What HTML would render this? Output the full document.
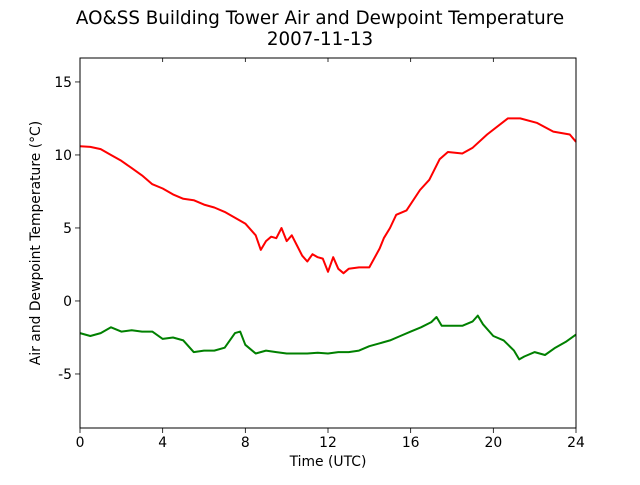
<!DOCTYPE html>
<html><head><meta charset="utf-8"><style>
html,body{margin:0;padding:0;background:#fff;}
svg text{font-family:"DejaVu Sans","Liberation Sans",sans-serif;fill:#000;}
</style></head><body>
<svg id="chart" width="640" height="480" xmlns="http://www.w3.org/2000/svg">
<rect width="640" height="480" fill="#fff"/>
<text x="320" y="24" font-size="18.3" text-anchor="middle">AO&amp;SS Building Tower Air and Dewpoint Temperature</text>
<text x="320" y="45" font-size="18.3" text-anchor="middle">2007-11-13</text>
<g id="axes"></g>
<g id="series"></g>
<rect x="80" y="58" width="496" height="370" fill="none" stroke="#000" stroke-width="1"/>
<text x="328" y="466" font-size="13.9" text-anchor="middle">Time (UTC)</text>
<text transform="translate(40,243) rotate(-90)" font-size="13.9" text-anchor="middle">Air and Dewpoint Temperature (°C)</text>
</svg>
<script>
const airHours = [0,0.5,1,1.5,2,2.5,3,3.5,4,4.5,5,5.5,6,6.5,7,7.5,8,8.25,8.5,8.75,9,9.25,9.5,9.75,10,10.25,10.5,10.75,11,11.25,11.5,11.75,12,12.25,12.5,12.75,13,13.5,14,14.5,14.7,15,15.3,15.8,16.45,16.9,17.4,17.8,18.5,19,19.7,20.7,21.3,22.1,22.9,23.7,24];
const airTemp = [10.6,10.55,10.4,10.0,9.6,9.1,8.6,8.0,7.7,7.3,7.0,6.9,6.6,6.4,6.1,5.7,5.3,4.9,4.5,3.5,4.1,4.4,4.3,5.0,4.1,4.5,3.8,3.1,2.7,3.2,3.0,2.9,2.0,3.0,2.2,1.9,2.2,2.3,2.3,3.6,4.3,5.0,5.9,6.2,7.6,8.3,9.7,10.2,10.1,10.5,11.4,12.5,12.5,12.2,11.6,11.4,10.9];
const dewHours = [0,0.5,1,1.5,2,2.5,3,3.5,4,4.5,5,5.5,6,6.5,7,7.5,7.75,8,8.5,9,9.5,10,10.5,11,11.5,12,12.5,13,13.5,14,14.5,15,15.5,16,16.5,17,17.25,17.5,18,18.5,19,19.25,19.5,20,20.5,21,21.25,21.5,22,22.5,23,23.5,24];
const dewTemp = [-2.2,-2.4,-2.2,-1.8,-2.1,-2.0,-2.1,-2.1,-2.6,-2.5,-2.7,-3.5,-3.4,-3.4,-3.2,-2.2,-2.1,-3.0,-3.6,-3.4,-3.5,-3.6,-3.6,-3.6,-3.55,-3.6,-3.5,-3.5,-3.4,-3.1,-2.9,-2.7,-2.4,-2.1,-1.8,-1.45,-1.1,-1.7,-1.7,-1.7,-1.4,-1.0,-1.6,-2.4,-2.7,-3.4,-4.0,-3.8,-3.5,-3.7,-3.2,-2.8,-2.3];
const xTicks = [0,4,8,12,16,20,24];
const yTicks = [-5,0,5,10,15];
const xMin=0,xMax=24,yMin=-8.7,yMax=16.64;
const L=80,R=576,T=58,B=428;
function xs(v){return L+(v-xMin)/(xMax-xMin)*(R-L);}
function ys(v){return B-(v-yMin)/(yMax-yMin)*(B-T);}
const NS="http://www.w3.org/2000/svg";
const ax=document.getElementById('axes'), se=document.getElementById('series');
function mk(tag,attrs,parent){const e=document.createElementNS(NS,tag);for(const k in attrs)e.setAttribute(k,attrs[k]);parent.appendChild(e);return e;}
xTicks.forEach(t=>{
  const x=xs(t);
  const tk=mk('line',{x1:x,x2:x,y1:B,y2:B+5,stroke:'#000','stroke-width':0.8},ax);
  
  
  const tt=mk('line',{x1:x,x2:x,y1:T,y2:T+4,stroke:'#000','stroke-width':0.8},ax);
  
  
  const lb=mk('text',{x:x,y:B+19,'font-size':13.9,'text-anchor':'middle'},ax);
  lb.textContent=t;
  
  
});
yTicks.forEach(t=>{
  const y=ys(t);
  const tk=mk('line',{x1:L-5,x2:L,y1:y,y2:y,stroke:'#000','stroke-width':0.8},ax);
  
  
  const lb=mk('text',{x:L-8,y:y+5,'font-size':13.9,'text-anchor':'end'},ax);
  lb.textContent=t;
  
  
});
function line(hs,vs,color,name){
  const d=hs.map((h,i)=>(i?'L':'M')+xs(h).toFixed(1)+' '+ys(vs[i]).toFixed(1)).join(' ');
  const p=mk('path',{d:d,fill:'none',stroke:color,'stroke-width':2,'stroke-linejoin':'round'},se);
  
  
}
line(airHours,airTemp,'#ff0000','air-temperature-line');
line(dewHours,dewTemp,'#008000','dewpoint-temperature-line');
</script>
</body></html>
